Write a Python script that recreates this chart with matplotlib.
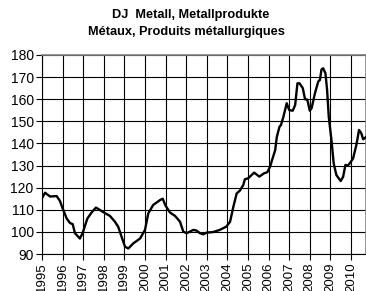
import matplotlib.pyplot as plt
import numpy as np

plt.rcParams['font.family'] = ['Liberation Sans', 'DejaVu Sans']

# (decimal year, index value)
years = [1995.0, 1995.15, 1995.39, 1995.71, 1995.87, 1996.0, 1996.2, 1996.36, 1996.49,
         1996.6, 1996.76, 1996.84, 1996.97, 1997.2, 1997.41, 1997.62, 1998.0, 1998.3,
         1998.54, 1998.7, 1998.87, 1999.03, 1999.19, 1999.43, 1999.76, 2000.0, 2000.16,
         2000.4, 2000.73, 2000.86, 2000.99, 2001.21, 2001.46, 2001.7, 2001.86, 2002.02,
         2002.35, 2002.5, 2002.67, 2002.83, 2003.0, 2003.3, 2003.63, 2003.95, 2004.13,
         2004.29, 2004.45, 2004.6, 2004.77, 2004.85, 2005.0, 2005.3, 2005.55, 2005.78,
         2005.94, 2006.07, 2006.32, 2006.4, 2006.53, 2006.6, 2006.72, 2006.88, 2007.0,
         2007.17, 2007.29, 2007.4, 2007.5, 2007.66, 2007.77, 2007.88, 2008.0, 2008.09,
         2008.25, 2008.41, 2008.49, 2008.57, 2008.65, 2008.76, 2008.84, 2008.92, 2009.05,
         2009.16, 2009.29, 2009.5, 2009.62, 2009.73, 2009.83, 2009.94, 2010.1, 2010.26,
         2010.39, 2010.5, 2010.59, 2010.72]
values = [115.3, 117.7, 116.0, 116.2, 114.0, 110.7, 106.0, 104.0, 103.5,
          99.4, 97.8, 97.0, 99.4, 106.0, 108.8, 111.0, 108.8, 107.2,
          104.6, 102.3, 97.6, 93.3, 92.5, 94.8, 97.0, 100.9, 108.4,
          112.2, 114.4, 115.0, 112.0, 108.8, 107.2, 104.6, 100.1, 99.4,
          100.9, 100.6, 99.4, 98.9, 99.7, 99.9, 100.9, 102.4, 104.6,
          111.4, 117.4, 118.6, 121.2, 123.8, 124.2, 126.8, 125.0, 126.5,
          127.0, 129.5, 137.0, 143.0, 147.6, 148.3, 152.1, 158.2, 155.1,
          154.8, 157.4, 167.2, 167.2, 165.0, 160.0, 159.8, 154.8, 156.0,
          162.7, 168.0, 168.7, 173.5, 174.0, 171.7, 164.2, 152.1, 141.6,
          131.0, 125.7, 123.0, 125.0, 130.3, 129.9, 131.0, 133.2, 139.3,
          146.1, 144.6, 141.9, 142.8]
year_ticks = list(range(1995, 2011))
y_ticks = list(range(90, 181, 10))

fig = plt.figure(figsize=(3.66, 2.91), dpi=100)
ax = fig.add_axes([42/366, 37/291, 324/366, 199/291])

ax.plot(years, values, color='black', linewidth=1.7, zorder=3)

ax.set_xlim(1995, 1995 + 324/20.6)
ax.set_ylim(90, 180)
ax.set_xticks(year_ticks)
ax.set_xticklabels([str(y) for y in year_ticks], rotation=90, fontsize=9.5)
ax.set_yticks(y_ticks)
ax.tick_params(axis='y', labelsize=10, length=4, width=0.8, pad=2)
ax.tick_params(axis='x', length=4, width=0.8, pad=2)
ax.grid(True, color='black', linewidth=0.8)
ax.set_axisbelow(True)
for side in ['top', 'right']:
    ax.spines[side].set_color('#808080')
    ax.spines[side].set_linewidth(1.2)
for side in ['left', 'bottom']:
    ax.spines[side].set_color('black')
    ax.spines[side].set_linewidth(0.8)

fig.text(0.522, 0.948, 'DJ  Metall, Metallprodukte', ha='center', va='center',
         fontsize=9.2, fontweight='bold')
fig.text(0.51, 0.891, 'Métaux, Produits métallurgiques', ha='center', va='center',
         fontsize=9.2, fontweight='bold')

plt.savefig('out.png', dpi=100)
